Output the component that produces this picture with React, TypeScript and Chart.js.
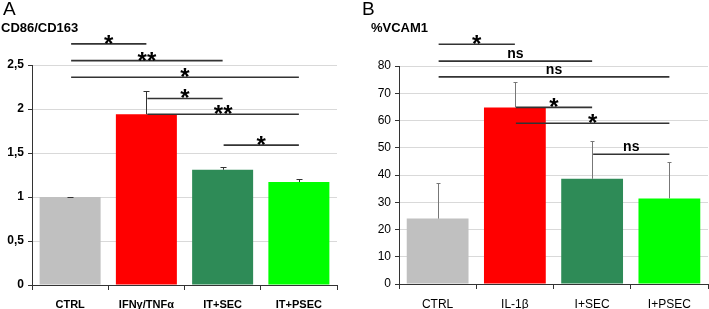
import React, { useEffect, useRef } from "react";
import { Chart, registerables } from "chart.js";

Chart.register(...registerables);

const FONT = "'Liberation Sans', Arial, sans-serif";

// Panel A
const categoriesA = ["CTRL", "IFNγ/TNFα", "IT+SEC", "IT+PSEC"];
const valuesA = [1.0, 1.94, 1.31, 1.17];
const errorsA = [0.0, 0.27, 0.03, 0.03];
const bracketFromA = [0, 0, 0, 1, 1, 2];
const bracketToA = [1, 2, 3, 2, 3, 3];
const bracketYA = [2.74, 2.55, 2.36, 2.12, 1.94, 1.59];
const bracketLabelA = ["*", "**", "*", "*", "**", "*"];

// Panel B
const categoriesB = ["CTRL", "IL-1β", "I+SEC", "I+PSEC"];
const valuesB = [24.0, 64.8, 38.6, 31.4];
const errorsB = [13.2, 9.2, 13.9, 13.2];
const bracketFromB = [0, 0, 0, 1, 1, 2];
const bracketToB = [1, 2, 3, 2, 3, 3];
const bracketYB = [88.0, 81.8, 76.0, 64.8, 59.0, 47.6];
const bracketLabelB = ["*", "ns", "ns", "*", "*", "ns"];

const barColors = ["#c0c0c0", "#ff0000", "#2e8b57", "#00ff00"];

type PanelCfg = {
  letter: string;
  title: string;
  categories: string[];
  values: number[];
  errors: number[];
  bFrom: number[];
  bTo: number[];
  bY: number[];
  bLabel: string[];
  max: number;
  step: number;
  bold: boolean;
  tickFont: number;
  xFont: number;
  padRight: number;
  yWidth: number;
  xHeight: number;
  padTop: number;
  errColor: string;
  capHalf: number;
  letterX: number;
  titleX: number;
  comma: boolean;
};

function makeChart(canvas: HTMLCanvasElement, c: PanelCfg) {
  const overlay = {
    id: "overlay",
    afterDatasetsDraw(chart: any) {
      const ctx = chart.ctx;
      const xs = chart.scales.x;
      const ys = chart.scales.y;
      const meta = chart.getDatasetMeta(0);
      ctx.save();
      // error bars
      ctx.strokeStyle = c.errColor;
      ctx.lineWidth = 1;
      for (let i = 0; i < c.values.length; i++) {
        const x = Math.round(meta.data[i].x) + 0.5;
        const y0 = ys.getPixelForValue(c.values[i]);
        const y1 = Math.round(ys.getPixelForValue(c.values[i] + c.errors[i])) + 0.5;
        ctx.beginPath();
        ctx.moveTo(x, y0);
        ctx.lineTo(x, y1);
        ctx.moveTo(x - c.capHalf, y1);
        ctx.lineTo(x + c.capHalf, y1);
        ctx.stroke();
      }
      // significance brackets
      ctx.strokeStyle = "#333333";
      ctx.lineWidth = 1.6;
      ctx.fillStyle = "#000000";
      ctx.textAlign = "center";
      ctx.textBaseline = "alphabetic";
      for (let i = 0; i < c.bY.length; i++) {
        const xa = xs.getPixelForValue(c.bFrom[i]) + 1;
        const xb = xs.getPixelForValue(c.bTo[i]);
        const y = ys.getPixelForValue(c.bY[i]);
        ctx.beginPath();
        ctx.moveTo(xa, y);
        ctx.lineTo(xb, y);
        ctx.stroke();
        const lab = c.bLabel[i];
        const mid = (xa + xb) / 2;
        if (lab === "ns") {
          ctx.font = `bold 14px ${FONT}`;
          ctx.fillText(lab, mid, y - 3);
        } else {
          ctx.font = `bold 24px ${FONT}`;
          ctx.fillText(lab, mid, y + 8);
        }
      }
      ctx.restore();
    },
    afterDraw(chart: any) {
      const ctx = chart.ctx;
      ctx.save();
      ctx.fillStyle = "#000000";
      ctx.textAlign = "left";
      ctx.textBaseline = "alphabetic";
      ctx.font = `19px ${FONT}`;
      ctx.fillText(c.letter, c.letterX, 15);
      ctx.font = `bold 13px ${FONT}`;
      ctx.fillText(c.title, c.titleX, 32);
      ctx.restore();
    },
  };

  return new Chart(canvas, {
    type: "bar",
    data: {
      labels: c.categories,
      datasets: [
        {
          data: c.values,
          backgroundColor: barColors,
          borderWidth: 0,
          barPercentage: 1,
          categoryPercentage: 0.8,
        },
      ],
    },
    options: {
      responsive: false,
      animation: false,
      devicePixelRatio: 1,
      layout: { padding: { left: 0, right: c.padRight, top: c.padTop, bottom: 0 } },
      plugins: {
        legend: { display: false },
        tooltip: { enabled: false },
        title: { display: false },
      },
      scales: {
        x: {
          grid: {
            display: true,
            drawOnChartArea: false,
            tickLength: 5,
            tickColor: "#333333",
            offset: true,
          },
          border: { color: "#333333", width: 1 },
          ticks: {
            color: "#000000",
            font: { family: FONT, size: c.xFont, weight: c.bold ? "bold" : "normal" },
            padding: 8,
            maxRotation: 0,
          },
          afterFit: (s: any) => {
            s.height = c.xHeight;
          },
        },
        y: {
          min: 0,
          max: c.max,
          grid: {
            color: "#d9d9d9",
            tickColor: "#333333",
            tickLength: 4,
          },
          border: { color: "#333333", width: 1 },
          ticks: {
            stepSize: c.step,
            color: "#000000",
            padding: 4,
            font: { family: FONT, size: c.tickFont, weight: c.bold ? "bold" : "normal" },
            callback: (v: any) => (c.comma ? String(v).replace(".", ",") : String(v)),
          },
          afterFit: (s: any) => {
            s.width = c.yWidth;
          },
        },
      },
    },
    plugins: [overlay],
  } as any);
}

const cfgA: PanelCfg = {
  letter: "A",
  title: "CD86/CD163",
  categories: categoriesA,
  values: valuesA,
  errors: errorsA,
  bFrom: bracketFromA,
  bTo: bracketToA,
  bY: bracketYA,
  bLabel: bracketLabelA,
  max: 2.5,
  step: 0.5,
  bold: true,
  tickFont: 12,
  xFont: 11,
  padRight: 17,
  yWidth: 32,
  xHeight: 24,
  padTop: 65,
  errColor: "#333333",
  capHalf: 3,
  letterX: 3,
  titleX: 1,
  comma: true,
};

const cfgB: PanelCfg = {
  letter: "B",
  title: "%VCAM1",
  categories: categoriesB,
  values: valuesB,
  errors: errorsB,
  bFrom: bracketFromB,
  bTo: bracketToB,
  bY: bracketYB,
  bLabel: bracketLabelB,
  max: 80,
  step: 10,
  bold: false,
  tickFont: 12,
  xFont: 12,
  padRight: 1,
  yWidth: 44,
  xHeight: 25,
  padTop: 66,
  errColor: "#777777",
  capHalf: 2,
  letterX: 7,
  titleX: 16,
  comma: false,
};

function Panel({ cfg, left }: { cfg: PanelCfg; left: number }) {
  const ref = useRef<HTMLCanvasElement | null>(null);
  useEffect(() => {
    if (!ref.current) return;
    const chart = makeChart(ref.current, cfg);
    return () => chart.destroy();
  }, [cfg]);
  return (
    <canvas
      ref={ref}
      width={354}
      height={309}
      style={{ position: "absolute", left, top: 0, width: 354, height: 309 }}
    />
  );
}

export default function App() {
  return (
    <div
      style={{
        position: "absolute",
        left: 0,
        top: 0,
        width: 709,
        height: 309,
        background: "#ffffff",
        overflow: "hidden",
      }}
    >
      <Panel cfg={cfgA} left={0} />
      <Panel cfg={cfgB} left={355} />
    </div>
  );
}
